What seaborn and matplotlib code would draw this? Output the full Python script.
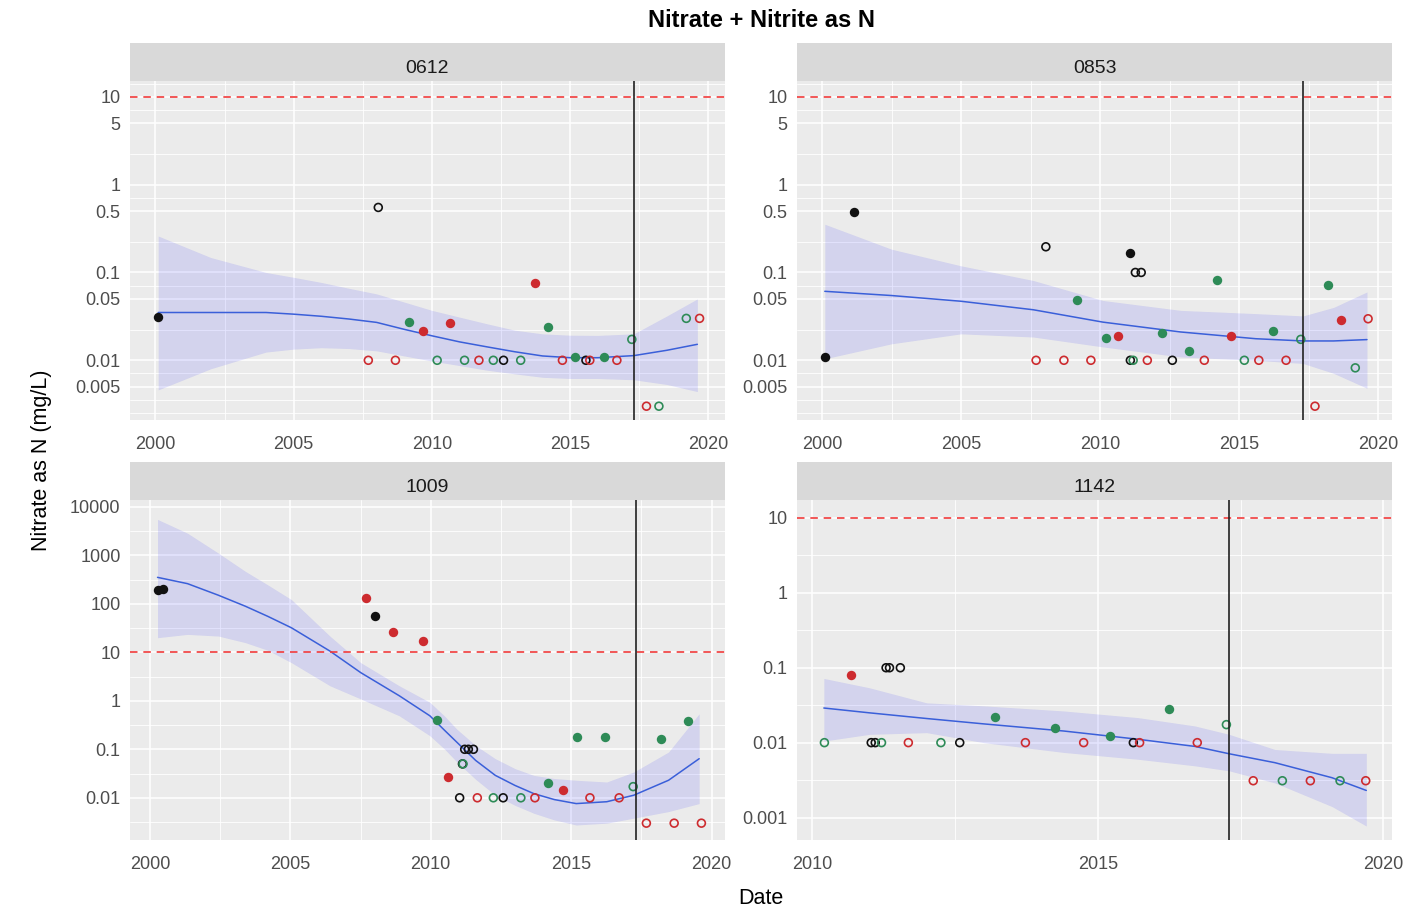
import numpy as np
import pandas as pd
import matplotlib
matplotlib.use("Agg")
import matplotlib.pyplot as plt
import seaborn as sns
from matplotlib.ticker import FixedLocator, FixedFormatter, NullFormatter

# ==================================================================================================
# Data: decimal year, value (mg/L), colour group, detected (1) / non-detect (0)

year_0612 = [2000.08, 2009.17, 2009.68, 2010.66, 2013.74, 2014.21, 2015.18, 2016.23,
             2007.70, 2008.06, 2008.68, 2010.19, 2011.18, 2011.70, 2012.22, 2012.59, 2013.21,
             2014.72, 2015.57, 2015.71, 2016.69, 2017.23, 2017.76, 2018.21, 2019.20, 2019.68]
value_0612 = [0.031, 0.0275, 0.0213, 0.0263, 0.075, 0.0241, 0.011, 0.011,
              0.01, 0.55, 0.01, 0.01, 0.01, 0.01, 0.01, 0.01, 0.01,
              0.01, 0.01, 0.01, 0.01, 0.0173, 0.003, 0.003, 0.030, 0.030]
group_0612 = list("kgrrrggg" "rkrggrgkg" "rkrrgrggr")
detect_0612 = [1] * 8 + [0] * 18

year_0853 = [2000.11, 2001.15, 2009.16, 2010.21, 2010.66, 2011.07, 2012.23, 2013.21, 2014.20,
             2014.72, 2016.22, 2018.20, 2018.66,
             2007.70, 2008.05, 2008.70, 2009.67, 2011.09, 2011.19, 2011.27, 2011.48, 2011.70,
             2012.60, 2013.75, 2015.19, 2015.71, 2016.69, 2017.22, 2017.73, 2019.18, 2019.64]
value_0853 = [0.011, 0.49, 0.049, 0.018, 0.0187, 0.166, 0.0204, 0.0129, 0.0815,
              0.0187, 0.0213, 0.0714, 0.0284,
              0.01, 0.196, 0.01, 0.01, 0.01, 0.01, 0.10, 0.10, 0.01,
              0.01, 0.01, 0.01, 0.01, 0.01, 0.0173, 0.003, 0.0082, 0.0297]
group_0853 = list("kkggrkggg" "rggr" "rkrrkgkkr" "krgrrgrgr")
detect_0853 = [1] * 13 + [0] * 18

year_1009 = [2000.27, 2000.47, 2007.70, 2008.03, 2008.67, 2009.71, 2010.22, 2010.62, 2014.19,
             2014.70, 2015.21, 2016.19, 2018.19, 2019.18,
             2011.03, 2011.13, 2011.15, 2011.21, 2011.34, 2011.52, 2011.66, 2012.23, 2012.58,
             2013.21, 2013.71, 2015.67, 2016.71, 2017.21, 2017.68, 2018.67, 2019.64]
value_1009 = [190, 205, 130, 56.5, 26, 16.8, 0.41, 0.027, 0.020,
              0.0148, 0.18, 0.18, 0.164, 0.378,
              0.01, 0.05, 0.05, 0.1, 0.1, 0.1, 0.01, 0.01, 0.01,
              0.01, 0.01, 0.01, 0.01, 0.017, 0.003, 0.003, 0.003]
group_1009 = list("kkrkrrgrg" "rgggg" "kkgkkkrgk" "grrrgrrr")
detect_1009 = [1] * 14 + [0] * 17

year_1142 = [2010.67, 2013.19, 2014.24, 2015.22, 2016.24,
             2010.21, 2011.03, 2011.10, 2011.21, 2011.29, 2011.35, 2011.54, 2011.68, 2012.25,
             2012.58, 2013.73, 2014.75, 2015.62, 2015.73, 2016.74, 2017.25, 2017.72, 2018.23,
             2018.72, 2019.24, 2019.69]
value_1142 = [0.079, 0.0223, 0.0159, 0.0123, 0.0285,
              0.01, 0.01, 0.01, 0.01, 0.1, 0.1, 0.1, 0.01, 0.01,
              0.01, 0.01, 0.01, 0.01, 0.01, 0.01, 0.0174, 0.0031, 0.0031,
              0.0031, 0.0031, 0.0031]
group_1142 = list("rgggg" "gkkgkkkrg" "krrkrrgrg" "rgr")
detect_1142 = [1] * 5 + [0] * 21

# smoothed trend and its confidence band
fit_year_0612 = [2000.1, 2002, 2004, 2005, 2006, 2007, 2008, 2009, 2010, 2011, 2012, 2013, 2014,
                 2015, 2016, 2017.3, 2018.5, 2019.6]
fit_mid_0612 = [0.035, 0.035, 0.035, 0.0335, 0.0317, 0.0295, 0.027, 0.0225, 0.019, 0.0162, 0.0142,
                0.0125, 0.0112, 0.0107, 0.0107, 0.0113, 0.013, 0.0152]
fit_hi_0612 = [0.26, 0.148, 0.100, 0.088, 0.077, 0.066, 0.057, 0.046, 0.037, 0.031, 0.026,
               0.022, 0.020, 0.0193, 0.0192, 0.020, 0.032, 0.050]
fit_lo_0612 = [0.0046, 0.0080, 0.0124, 0.0134, 0.0139, 0.0136, 0.0128, 0.0112, 0.0098, 0.0087,
               0.0077, 0.0070, 0.0064, 0.0062, 0.0062, 0.0060, 0.0053, 0.0044]

fit_year_0853 = [2000.1, 2002.5, 2005.0, 2007.6, 2010.1, 2012.9, 2015.6, 2017.3, 2018.4, 2019.6]
fit_mid_0853 = [0.061, 0.0546, 0.047, 0.0376, 0.0272, 0.021, 0.0176, 0.0166, 0.0166, 0.0172]
fit_hi_0853 = [0.354, 0.184, 0.119, 0.081, 0.048, 0.037, 0.034, 0.032, 0.040, 0.060]
fit_lo_0853 = [0.0104, 0.0154, 0.020, 0.0184, 0.0142, 0.0109, 0.0100, 0.0092, 0.0071, 0.0048]

fit_year_1009 = [2000.27, 2001.34, 2002.44, 2003.40, 2004.2, 2005.04, 2006.41, 2007.51, 2008.88,
                 2009.97, 2010.5, 2010.93, 2011.6, 2012.30, 2013.0, 2013.67, 2014.4, 2015.18,
                 2016.27, 2017.23, 2018.47, 2019.56]
fit_mid_1009 = [351, 260, 150, 89, 55, 32, 10.6, 3.8, 1.27,
                0.49, 0.244, 0.14, 0.059, 0.029, 0.018, 0.0122, 0.0092, 0.0076,
                0.0083, 0.0113, 0.023, 0.064]
fit_hi_1009 = [5500, 2850, 1107, 466, 245, 122, 21.6, 6.1, 2.04,
               0.93, 0.48, 0.26, 0.12, 0.064, 0.040, 0.029, 0.025, 0.023,
               0.0212, 0.034, 0.088, 0.54]
fit_lo_1009 = [20, 23.4, 21.6, 15.8, 11, 6.1, 2.04, 1.09, 0.49,
               0.19, 0.10, 0.055, 0.024, 0.0113, 0.0070, 0.0048, 0.0035, 0.00275,
               0.0030, 0.0038, 0.0052, 0.0076]

fit_year_1142 = [2010.2, 2011.0, 2012.0, 2013.0, 2014.4, 2015.7, 2016.7, 2017.3, 2018.1, 2019.1, 2019.7]
fit_mid_1142 = [0.029, 0.025, 0.021, 0.0178, 0.0143, 0.0111, 0.0089, 0.0071, 0.0054, 0.0034, 0.0023]
fit_hi_1142 = [0.072, 0.054, 0.034, 0.031, 0.0265, 0.0216, 0.0167, 0.0129, 0.0081, 0.0072, 0.0072]
fit_lo_1142 = [0.0105, 0.0129, 0.0136, 0.0100, 0.0074, 0.0060, 0.0049, 0.0042, 0.0029, 0.0014, 0.00077]

limit_value = 10
event_year = 2017.3

# ==================================================================================================

sites = ["0612", "0853", "1009", "1142"]
points = {
    "0612": (year_0612, value_0612, group_0612, detect_0612),
    "0853": (year_0853, value_0853, group_0853, detect_0853),
    "1009": (year_1009, value_1009, group_1009, detect_1009),
    "1142": (year_1142, value_1142, group_1142, detect_1142),
}
fits = {
    "0612": (fit_year_0612, fit_mid_0612, fit_lo_0612, fit_hi_0612),
    "0853": (fit_year_0853, fit_mid_0853, fit_lo_0853, fit_hi_0853),
    "1009": (fit_year_1009, fit_mid_1009, fit_lo_1009, fit_hi_1009),
    "1142": (fit_year_1142, fit_mid_1142, fit_lo_1142, fit_hi_1142),
}

# panel layout in pixels (left, top of plotting area) and axis settings
W, H = 1421, 909
layout = {
    "0612": dict(left=130, top=81, h=339, xlim=(1999.08, 2020.6), ylog=(-2.68, 1.18),
                 yt=[0.005, 0.01, 0.05, 0.1, 0.5, 1, 5, 10], xt=[2000, 2005, 2010, 2015, 2020]),
    "0853": dict(left=797, top=81, h=339, xlim=(1999.1, 2020.5), ylog=(-2.68, 1.18),
                 yt=[0.005, 0.01, 0.05, 0.1, 0.5, 1, 5, 10], xt=[2000, 2005, 2010, 2015, 2020]),
    "1009": dict(left=130, top=500, h=340, xlim=(1999.29, 2020.48), ylog=(-2.87, 4.14),
                 yt=[0.01, 0.1, 1, 10, 100, 1000, 10000], xt=[2000, 2005, 2010, 2015, 2020]),
    "1142": dict(left=797, top=500, h=340, xlim=(2009.73, 2020.15), ylog=(-3.30, 1.24),
                 yt=[0.001, 0.01, 0.1, 1, 10], xt=[2010, 2015, 2020]),
}
colors = {"k": "#111111", "r": "#CD2B2F", "g": "#2E8B57"}


def minor_breaks(major, lo, hi):
    b = list(major)
    if lo < b[0]:
        b = [b[0] - (b[1] - b[0])] + b
    if hi > b[-1]:
        b = b + [b[-1] + (b[-1] - b[-2])]
    out = []
    for a, c in zip(b[:-1], b[1:]):
        out += [a, (a + c) / 2]
    out.append(b[-1])
    return [v for v in out if lo <= v <= hi and min(abs(v - m) for m in major) > 1e-9]


def fmt(v):
    return f"{v:g}"


# ==================================================================================================

sns.set_theme(style="darkgrid")
plt.rcParams["font.family"] = ["Liberation Sans", "DejaVu Sans"]

fig = plt.figure(figsize=(W / 100, H / 100), dpi=100)
fig.patch.set_facecolor("white")

for site in sites:
    L = layout[site]
    ax = fig.add_axes([L["left"] / W, 1 - (L["top"] + L["h"]) / H, 595 / W, L["h"] / H])
    ax.set_facecolor("#EBEBEB")
    ax.set_yscale("log")

    # trend band and line
    fy, fm, flo, fhi = fits[site]
    ax.fill_between(fy, flo, fhi, color="blue", alpha=0.1, lw=0, zorder=2)
    sns.lineplot(x=fy, y=fm, ax=ax, color="#3A5FD9", lw=1.1, estimator=None, sort=False, zorder=3)

    # points: filled = detected, open = non-detect
    df = pd.DataFrame(dict(zip(["year", "value", "group", "detect"], points[site])))
    for g, c in colors.items():
        d = df[(df.group == g) & (df.detect == 1)]
        if len(d):
            sns.scatterplot(data=d, x="year", y="value", ax=ax, color=c, s=46, linewidth=0, zorder=4)
        d = df[(df.group == g) & (df.detect == 0)]
        if len(d):
            sns.scatterplot(data=d, x="year", y="value", ax=ax, color=c, facecolors="none",
                            edgecolor=c, linewidth=1.2, s=32, zorder=4)

    ax.axhline(limit_value, color="#F03A3A", lw=1.2, ls=(0, (4.5, 3.5)), zorder=5)
    ax.axvline(event_year, color="#222222", lw=1.2, zorder=5)

    # axes, ticks, grid
    ylo, yhi = L["ylog"]
    ax.set_ylim(10 ** ylo, 10 ** yhi)
    ax.set_xlim(*L["xlim"])
    ax.yaxis.set_major_locator(FixedLocator(L["yt"]))
    ax.yaxis.set_major_formatter(FixedFormatter([fmt(v) for v in L["yt"]]))
    ymin = minor_breaks(list(np.log10(L["yt"])), ylo, yhi)
    ax.yaxis.set_minor_locator(FixedLocator([10 ** v for v in ymin]))
    ax.yaxis.set_minor_formatter(NullFormatter())
    ax.xaxis.set_major_locator(FixedLocator(L["xt"]))
    ax.xaxis.set_major_formatter(FixedFormatter([str(v) for v in L["xt"]]))
    ax.xaxis.set_minor_locator(FixedLocator(minor_breaks(L["xt"], *L["xlim"])))
    ax.xaxis.set_minor_formatter(NullFormatter())

    ax.grid(which="major", color="white", lw=1.1)
    ax.grid(which="minor", color="white", lw=0.6)
    ax.set_axisbelow(True)
    ax.tick_params(which="minor", length=0)
    ax.tick_params(which="major", length=4.3, width=0.9, color="#333333",
                   labelsize=13, labelcolor="#4D4D4D")
    ax.tick_params(axis="y", pad=2.5)
    ax.tick_params(axis="x", pad=7)
    for s in ax.spines.values():
        s.set_visible(False)
    ax.set(xlabel="", ylabel="")

    # facet strip
    sax = fig.add_axes([L["left"] / W, 1 - L["top"] / H, 595 / W, 38 / H])
    sax.set_facecolor("#D9D9D9")
    sax.set_xticks([])
    sax.set_yticks([])
    sax.grid(False)
    for s in sax.spines.values():
        s.set_visible(False)
    sax.text(0.5, 0.22, site, ha="center", va="baseline", fontsize=14, color="#1A1A1A",
             transform=sax.transAxes)

fig.text(761 / W, 1 - 27 / H, "Nitrate + Nitrite as N", ha="center", va="baseline",
         fontsize=17, fontweight="bold", color="black")
fig.text(761 / W, 1 - 904 / H, "Date", ha="center", va="baseline", fontsize=15.5, color="black")
fig.text(42 / W, 1 - 460 / H, "Nitrate as N (mg/L)", ha="center", va="center", rotation=90,
         fontsize=15.5, color="black")

fig.savefig("out.png", dpi=100)
